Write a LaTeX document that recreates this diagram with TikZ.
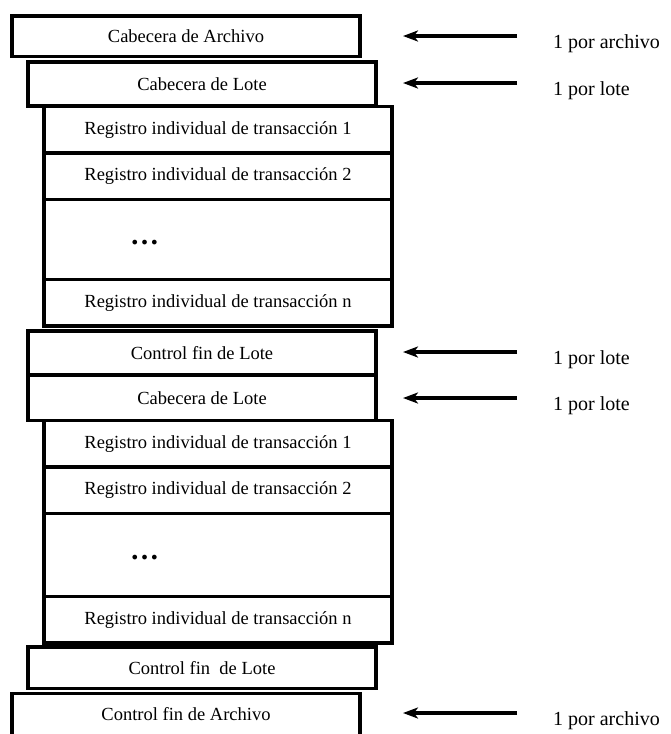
\documentclass[tikz,border=0pt]{standalone}
\usepackage{fontspec}
\setmainfont{Liberation Serif}
\usetikzlibrary{arrows.meta}
\usetikzlibrary{positioning}

\begin{document}
\begin{tikzpicture}[x=1pt,y=-1pt,
  caja/.style={draw,line width=3.5pt,outer sep=0pt,inner sep=0pt,minimum width=348pt,minimum height=44pt,font=\fontsize{18.5}{20}\selectfont},
  reg/.style={caja,minimum height=46.5pt},
  hueco/.style={caja,minimum height=80pt},
  puntos/.style={anchor=base,font=\bfseries\fontsize{29}{30}\selectfont},
  flecha/.style={line width=3.3pt,-{Stealth[length=15pt,width=11pt,inset=4pt]}},
  nota/.style={anchor=west,inner sep=0pt,font=\fontsize{20}{22}\selectfont}]
  \useasboundingbox (0,0) rectangle (670,734);

  \node[caja,minimum height=40.5pt] (arch) at (186,36) {Cabecera de Archivo};
  \node[caja] (lote1) at (202,84) {Cabecera de Lote};
  \node[reg,below=0.5pt of lote1,xshift=16pt] (r11) {Registro individual de transacción 1};
  \node[reg,below=0pt of r11] (r12) {Registro individual de transacción 2};
  \node[hueco,below=0pt of r12] (h1) {};
  \node[reg,below=0pt of h1] (r1n) {Registro individual de transacción n};
  \node[caja,below=5pt of r1n,xshift=-16pt] (fin1) {Control fin de Lote};
  \node[caja,below=0pt of fin1,minimum height=45.5pt] (lote2) {Cabecera de Lote};
  \node[reg,below=0pt of lote2,xshift=16pt] (r21) {Registro individual de transacción 1};
  \node[reg,below=0pt of r21] (r22) {Registro individual de transacción 2};
  \node[hueco,below=0pt of r22,minimum height=83pt] (h2) {};
  \node[reg,below=0pt of h2] (r2n) {Registro individual de transacción n};
  \node[caja,below=4pt of r2n,xshift=-16pt,minimum height=41.5pt] (fin2) {Control fin\ \ de Lote};
  \node[caja,below=5pt of fin2,xshift=-16pt,minimum height=42pt] (finarch) {Control fin de Archivo};

  \node[puntos] (p1) at ([xshift=-73.3pt,yshift=-4.5pt]h1.center) {…};
  \node[puntos] (p2) at ([xshift=-73.3pt,yshift=-4.5pt]h2.center) {…};

  \node[nota] (n1) at (553,44) {1 por archivo};
  \node[nota] (n2) at (553,91) {1 por lote};
  \node[nota] (n3) at (553,360) {1 por lote};
  \node[nota] (n4) at (553,406) {1 por lote};
  \node[nota] (n5) at (553,721) {1 por archivo};

  \coordinate (c1) at (517,36);  \coordinate (a1) at (403,36);
  \coordinate (c2) at (517,83);  \coordinate (a2) at (403,83);
  \coordinate (c3) at (517,352); \coordinate (a3) at (403,352);
  \coordinate (c4) at (517,398); \coordinate (a4) at (403,398);
  \coordinate (c5) at (517,713); \coordinate (a5) at (403,713);
  \draw[flecha](c1)--(a1);
  \draw[flecha](c2)--(a2);
  \draw[flecha](c3)--(a3);
  \draw[flecha](c4)--(a4);
  \draw[flecha](c5)--(a5);
\end{tikzpicture}
\end{document}
